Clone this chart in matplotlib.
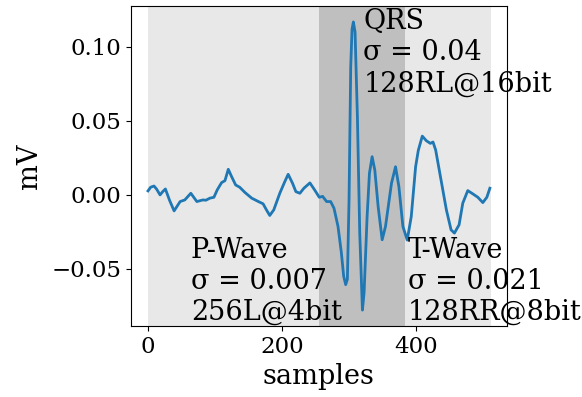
import matplotlib
matplotlib.use("Agg")
import matplotlib.pyplot as plt

plt.rcParams['font.family'] = ['DejaVu Serif']

samples = [0, 4, 9, 13, 18, 22, 26, 32, 39, 48, 55, 64, 73, 82, 86.5, 92.5, 98.5,
           103.5, 110, 115, 120, 125, 131, 137, 145, 155, 165, 172, 177, 182, 188,
           197, 204.5, 209.5, 216, 221, 227, 233, 242, 249, 256, 261, 267, 273, 278,
           284, 289, 292.5, 295.5, 298, 300.5, 303, 305, 307, 309.5, 313, 316.5, 320.5,
           323, 327.5, 331, 335, 339, 344, 350, 355, 364, 370, 375, 381, 387.5,
           393.5, 400, 404, 410, 416, 422, 426, 430, 438, 446, 453, 458, 465, 470.5,
           478, 485.5, 493, 500.5, 506.5, 511]
mv = [0.0027, 0.0052, 0.006, 0.0038, 0.0, 0.0022, 0.004, -0.0034, -0.0108, -0.0045,
      -0.0034, 0.0011, -0.0045, -0.0034, -0.0036, -0.0022, -0.0016, 0.0034, 0.0083,
      0.0096, 0.0173, 0.0123, 0.0067, 0.0052, 0.0016, -0.0022, -0.0045, -0.006,
      -0.0101, -0.0139, -0.0101, 0.0011, 0.009, 0.0139, 0.0079, 0.0022, 0.0011,
      0.0045, 0.0081, 0.0034, -0.0016, -0.001, -0.0045, -0.0045, -0.009, -0.0213,
      -0.039, -0.055, -0.0606, -0.057, -0.0034, 0.0863, 0.112, 0.1168, 0.110, 0.0527,
      -0.0258, -0.0778, -0.066, -0.0146, 0.0146, 0.0258, 0.0168, -0.0079, -0.0303,
      -0.0213, 0.008, 0.019, 0.0056, -0.0213, -0.0305, -0.0146, 0.019, 0.0300,
      0.0397, 0.0366, 0.0348, 0.0357, 0.0303, 0.0101, -0.0101, -0.0236, -0.0258,
      -0.0202, -0.0056, 0.0029, 0.0007, -0.0016, -0.0052, -0.0016, 0.0045]

regions = [(0, 256, '#e8e8e8'), (256, 384, '#bfbfbf'), (384, 512, '#e8e8e8')]
labels = ["P-Wave\nσ = 0.007\n256L@4bit", "QRS\nσ = 0.04\n128RL@16bit",
          "T-Wave\nσ = 0.021\n128RR@8bit"]

fig = plt.figure(figsize=(5.82, 3.97), dpi=100)
ax = fig.add_axes([0.225, 0.179, 0.646, 0.806])
for a, b, c in regions:
    ax.axvspan(a, b, color=c, lw=0)
ax.plot(samples, mv, color='#1f77b4', lw=2)
ax.set_xlim(-25.5, 536.5)
ax.set_ylim(-0.0885, 0.1276)
ax.set_xticks([0, 200, 400])
ax.set_yticks([-0.05, 0.0, 0.05, 0.10])
ax.tick_params(labelsize=16.5)
ax.set_xlabel("samples", fontsize=19.5)
ax.set_ylabel("mV", fontsize=19.5, labelpad=6)

ax.text(64, -0.0885, labels[0], fontsize=19.5, va='bottom', ha='left', clip_on=False)
ax.text(322, 0.1262, labels[1], fontsize=19.5, va='top', ha='left', clip_on=False)
ax.text(388, -0.0885, labels[2], fontsize=19.5, va='bottom', ha='left', clip_on=False)

fig.savefig("out.png", dpi=100)
